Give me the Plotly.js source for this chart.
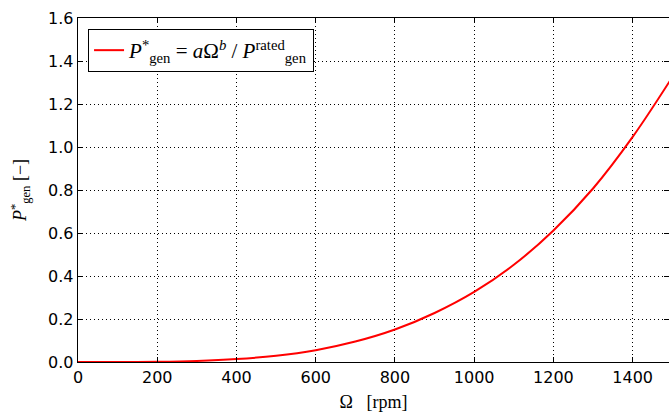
<!DOCTYPE html>
<html>
<head>
<meta charset="utf-8">
<script src="https://cdn.plot.ly/plotly-3.0.1.min.js"></script>
<style>html,body{margin:0;padding:0;background:#fff;}#chart{width:669px;height:416px;}</style>
</head>
<body>
<div id="chart"></div>
<script>
// Rotor speed [rpm]
const omega = [0, 100, 200, 300, 400, 500, 600, 700, 800, 900, 1000, 1100, 1200, 1300, 1400, 1500];
// Normalised generator power [-]
const pGen = [0, 0.0001, 0.0014, 0.0052, 0.0137, 0.029, 0.055, 0.095, 0.151, 0.228, 0.326, 0.452, 0.612, 0.807, 1.047, 1.325];
const xTicks = [0, 200, 400, 600, 800, 1000, 1200, 1400];
const yTicks = [0, 0.2, 0.4, 0.6, 0.8, 1.0, 1.2, 1.4, 1.6];

const serif = "Liberation Serif, DejaVu Serif, serif";
const sans = "DejaVu Sans, sans-serif";

const trace = {
  x: omega, y: pGen, type: 'scatter', mode: 'lines',
  line: {color: '#ff0000', width: 2, shape: 'spline', smoothing: 1},
  name: '<i>P</i><sup>*</sup><sub>gen</sub> = <i>a</i>Ω<sup><i>b</i></sup> / <i>P</i><sup>rated</sup><sub>gen</sub>'
};

const axisCommon = {
  showline: true, linecolor: '#000', linewidth: 1.3,
  ticks: 'inside', ticklen: 5, tickcolor: '#000', tickwidth: 1,
  showgrid: true, gridcolor: '#000', griddash: '1px,3px', gridwidth: 1,
  zeroline: false, mirror: 'ticks',
  tickfont: {family: sans, size: 16, color: '#000'}
};

const layout = {
  width: 669, height: 416,
  margin: {l: 78, r: 0, t: 18, b: 54},
  paper_bgcolor: '#fff', plot_bgcolor: '#fff',
  showlegend: true,
  xaxis: Object.assign({}, axisCommon, {
    range: [0, 1491.7], tickvals: xTicks, ticktext: xTicks.map(String),
    title: {text: 'Ω   [rpm]', font: {family: serif, size: 18, color: '#000'}, standoff: 10}
  }),
  yaxis: Object.assign({}, axisCommon, {
    range: [0, 1.6], tickvals: yTicks, ticktext: yTicks.map(v => v.toFixed(1)),
    title: {text: '<i>P</i><sup>*</sup><sub>gen</sub> [−]', font: {family: serif, size: 18, color: '#000'}, standoff: 16}
  }),
  legend: {
    x: 0.017, y: 0.968, xanchor: 'left', yanchor: 'top',
    bgcolor: '#fff', bordercolor: '#000', borderwidth: 1,
    font: {family: serif, size: 21, color: '#000'}
  }
};

Plotly.newPlot('chart', [trace], layout, {displayModeBar: false, staticPlot: true});
</script>
</body>
</html>
